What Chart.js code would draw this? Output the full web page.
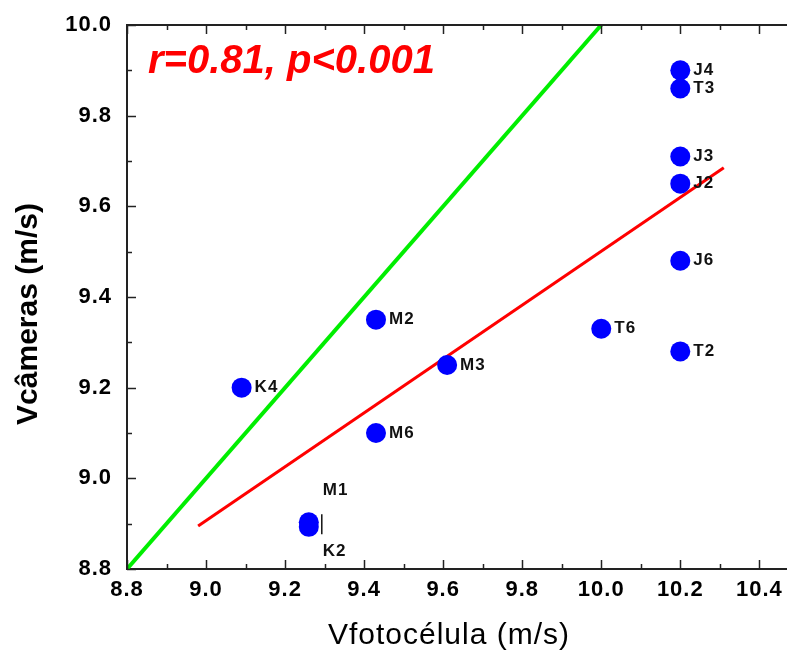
<!DOCTYPE html>
<html><head><meta charset="utf-8">
<script src="https://cdn.jsdelivr.net/npm/chart.js@4/dist/chart.umd.min.js"></script>
<style>html,body{margin:0;padding:0;background:#fff;overflow:hidden;}</style>
</head><body>
<canvas id="c" width="787" height="650"></canvas>
<script>
// ---- data ----
const athletes    = ['K4','M2','M3','M6','M1','K2','T6','T2','J6','J2','J3','T3','J4'];
const vFotocelula = [9.09, 9.43, 9.61, 9.43, 9.26, 9.26, 10.0, 10.2, 10.2, 10.2, 10.2, 10.2, 10.2];
const vCameras    = [9.20, 9.35, 9.25, 9.10, 8.903, 8.893, 9.33, 9.28, 9.48, 9.65, 9.71, 9.86, 9.90];
const identityX   = [8.8, 10.0];
const identityY   = [8.8, 10.0];
const regressionX = [8.98, 10.31];
const regressionY = [8.895, 9.685];
const xTickValues = [8.8, 9.0, 9.2, 9.4, 9.6, 9.8, 10.0, 10.2, 10.4];
const yTickValues = [8.8, 9.0, 9.2, 9.4, 9.6, 9.8, 10.0];
const xMinorValues = [8.9, 9.1, 9.3, 9.5, 9.7, 9.9, 10.1, 10.3];
const yMinorValues = [8.9, 9.1, 9.3, 9.5, 9.7, 9.9];
const statsText = 'r=0.81, p<0.001';
const xTitle = 'Vfotocélula (m/s)';
const yTitle = 'Vcâmeras (m/s)';

const labelOffsets = { M1: [14, -32], K2: [14, 24] };

const FONT = "'Liberation Sans', Arial, sans-serif";

const toPts = (xs, ys) => xs.map((x, i) => ({x, y: ys[i]}));

const decor = {
  id: 'decor',
  beforeDraw(chart) { chart.ctx.letterSpacing = '1px'; },
  afterDraw(chart) {
    const {ctx, chartArea: a, scales: {x, y}} = chart;
    ctx.save();
    ctx.strokeStyle = '#222'; ctx.lineWidth = 2;
    ctx.beginPath(); ctx.moveTo(a.left, a.top); ctx.lineTo(a.right, a.top); ctx.stroke();
    ctx.lineWidth = 1.5;
    const tick = (vals, len) => {
      vals.forEach(v => {
        const px = Math.round(x.getPixelForValue(v)) + 0.5;
        ctx.beginPath(); ctx.moveTo(px, a.bottom); ctx.lineTo(px, a.bottom - len); ctx.stroke();
        ctx.beginPath(); ctx.moveTo(px, a.top); ctx.lineTo(px, a.top + len); ctx.stroke();
      });
    };
    tick(xTickValues, 9); tick(xMinorValues, 5);
    const ytick = (vals, len) => {
      vals.forEach(v => {
        const py = Math.round(y.getPixelForValue(v)) + 0.5;
        ctx.beginPath(); ctx.moveTo(a.left, py); ctx.lineTo(a.left + len, py); ctx.stroke();
      });
    };
    ytick(yTickValues, 9); ytick(yMinorValues, 5);
    ctx.letterSpacing = '1px';
    ctx.fillStyle = '#000';
    ctx.textAlign = 'center'; ctx.textBaseline = 'middle';
    ctx.font = "30px " + FONT;
    ctx.fillText(xTitle, 449, 636);
    ctx.save();
    ctx.translate(29, 314); ctx.rotate(-Math.PI / 2);
    ctx.letterSpacing = '0px';
    ctx.font = "bold 30px " + FONT;
    ctx.fillText(yTitle, 0, 0);
    ctx.restore();
    ctx.letterSpacing = '0px';
    ctx.fillStyle = '#ff0000';
    ctx.textAlign = 'left';
    ctx.font = "italic bold 40px " + FONT;
    ctx.fillText(statsText, 148, 62);
    ctx.restore();
  },
  afterDatasetsDraw(chart) {
    const {ctx, scales: {x, y}} = chart;
    ctx.save();
    ctx.letterSpacing = '1px';
    ctx.fillStyle = '#111';
    ctx.font = "bold 17px " + FONT;
    ctx.textAlign = 'left'; ctx.textBaseline = 'middle';
    athletes.forEach((name, i) => {
      const px = x.getPixelForValue(vFotocelula[i]);
      const py = y.getPixelForValue(vCameras[i]);
      const off = labelOffsets[name] || [13, 0];
      ctx.fillText(name, px + off[0], py + off[1]);
    });
    const bx = x.getPixelForValue(vFotocelula[4]) + 13;
    const by = y.getPixelForValue(vCameras[4]);
    ctx.strokeStyle = '#111'; ctx.lineWidth = 1.5;
    ctx.beginPath(); ctx.moveTo(bx, by - 8); ctx.lineTo(bx, by + 12); ctx.stroke();
    ctx.restore();
  }
};

new Chart(document.getElementById('c'), {
  type: 'scatter',
  data: {
    datasets: [
      { label: 'Atletas', data: toPts(vFotocelula, vCameras), order: 0,
        backgroundColor: '#0000ff', borderColor: '#0000ff', pointRadius: 10, borderWidth: 0, pointHoverRadius: 10 },
      { label: 'Identidade', data: toPts(identityX, identityY), order: 2, showLine: true,
        borderColor: '#00ee00', borderWidth: 4, pointRadius: 0, fill: false },
      { label: 'Regressão', data: toPts(regressionX, regressionY), order: 1, showLine: true,
        borderColor: '#ff0000', borderWidth: 3, pointRadius: 0, fill: false }
    ]
  },
  options: {
    responsive: false, animation: false, devicePixelRatio: 1,
    layout: { autoPadding: false, padding: { top: 25, left: 0, right: 0, bottom: 0 } },
    plugins: { legend: { display: false }, tooltip: { enabled: false } },
    scales: {
      x: {
        type: 'linear', min: 8.8, max: 10.47,
        afterBuildTicks: s => { s.ticks = xTickValues.map(v => ({value: v})); },
        afterFit: s => { s.height = 81; s.paddingLeft = 0; s.paddingRight = 0; },
        grid: { display: false, drawTicks: false },
        border: { display: true, color: '#222', width: 2 },
        ticks: { padding: 8, color: '#000', font: { family: FONT, size: 22, weight: 'bold' },
                 callback: v => Number(v).toFixed(1), maxRotation: 0, autoSkip: false }
      },
      y: {
        type: 'linear', min: 8.8, max: 10.0,
        afterBuildTicks: s => { s.ticks = yTickValues.map(v => ({value: v})); },
        afterFit: s => { s.width = 127; s.paddingTop = 0; s.paddingBottom = 0; },
        grid: { display: false, drawTicks: false },
        border: { display: true, color: '#222', width: 2 },
        ticks: { padding: 15, color: '#000', font: { family: FONT, size: 22, weight: 'bold' },
                 callback: v => Number(v).toFixed(1), autoSkip: false }
      }
    }
  },
  plugins: [decor]
});
</script>
</body></html>
